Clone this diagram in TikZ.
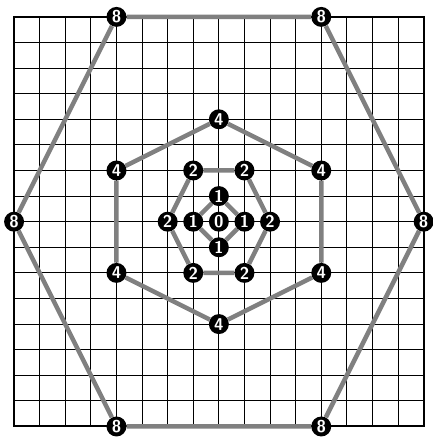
\documentclass[tikz,border=0pt]{standalone}
\usepackage{tikz}
\tikzset{
  num/.style={circle, fill=black, text=white, inner sep=0pt, minimum size=0.78cm,
    font=\sffamily\bfseries\fontsize{19}{19}\selectfont},
  ring/.style={draw=gray, line width=5pt},
  gridline/.style={draw=black, line width=1pt},
}
\begin{document}
\begin{tikzpicture}
    \useasboundingbox (-8.55,-8.45) rectangle (8.36,8.66);
    % the board
    \draw[gridline] (-8,-8) grid (8,8);
    \draw[black, line width=2.2pt] (-8,-8) rectangle (8,8);
    % distances
    \node[num] (z) at (0,0) {0};
    \foreach \n/\x/\y in {1/0/1, 2/1/0, 3/0/-1, 4/-1/0}
      \node[num] (a\n) at (\x,\y) {1};
    \foreach \n/\x/\y in {1/-1/2, 2/1/2, 3/2/0, 4/1/-2, 5/-1/-2, 6/-2/0}
      \node[num] (b\n) at (\x,\y) {2};
    \foreach \n/\x/\y in {1/0/4, 2/4/2, 3/4/-2, 4/0/-4, 5/-4/-2, 6/-4/2}
      \node[num] (c\n) at (\x,\y) {4};
    \foreach \n/\x/\y in {1/-4/8, 2/4/8, 3/8/0, 4/4/-8, 5/-4/-8, 6/-8/0}
      \node[num] (d\n) at (\x,\y) {8};
    % rings
    \draw[ring] (a1) -- (a2) -- (a3) -- (a4) -- (a1);
    \draw[ring] (b1) -- (b2) -- (b3) -- (b4) -- (b5) -- (b6) -- (b1);
    \draw[ring] (c1) -- (c2) -- (c3) -- (c4) -- (c5) -- (c6) -- (c1);
    \draw[ring] (d1) -- (d2) -- (d3) -- (d4) -- (d5) -- (d6) -- (d1);
\end{tikzpicture}
\end{document}
